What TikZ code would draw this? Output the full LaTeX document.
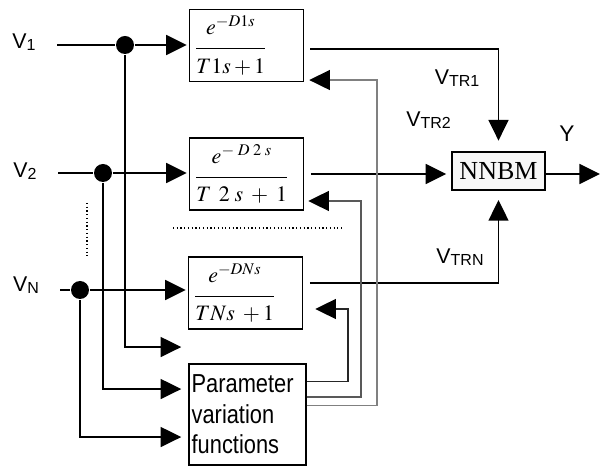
\documentclass[tikz,border=0pt]{standalone}
\usepackage{amsmath}
\usepackage{mathptmx}
\usepackage[no-math]{fontspec}
\setmainfont{Liberation Sans}
\newfontfamily\timesfont{Liberation Serif}
\newfontfamily\narrowfont[FakeStretch=0.84]{Liberation Sans}
\usetikzlibrary{arrows.meta,positioning,calc}
\newcommand{\sublbl}[2]{#1\raisebox{-1.5pt}{\fontsize{12}{12}\selectfont #2}}
\newcommand{\numstrut}{\rule[-8pt]{0pt}{8pt}}
\newcommand{\denstrut}{\rule{0pt}{16pt}}
\tikzset{
    block/.style = {draw, rectangle, line width=1.1pt, minimum height=54pt, minimum width=85.5pt, inner xsep=4pt, text width=77.5pt, align=left, font=\fontsize{16.5}{19}\selectfont},
    nnbm/.style = {draw, rectangle, line width=1.1pt, fill=black!3, minimum height=28.5pt, minimum width=69.75pt, inner sep=0pt, font=\timesfont\fontsize{19.5}{20}\selectfont},
    param/.style = {draw, rectangle, line width=1.1pt, minimum height=75.75pt, minimum width=87.75pt, inner xsep=2pt, text width=83.75pt, align=left, font=\narrowfont\fontsize{19.5}{23}\selectfont},
    dot/.style = {circle, fill, inner sep=0pt, minimum size=13.5pt},
    lbl/.style = {inner sep=0pt, font=\fontsize{16}{16}\selectfont},
    fb/.style = {line width=0.8pt, -{Triangle[length=15.5pt, width=15pt, color=black]}},
    dots/.style = {line width=0.9pt, dash pattern=on 0.9pt off 1.9pt},
}

\begin{document}
\begin{tikzpicture}[x=0.75pt, y=-0.75pt, line width=1.2pt, >={Triangle[length=15.5pt, width=15pt]}]
    \useasboundingbox (0,0) rectangle (600,466);

    % delay blocks
    \node[block] (tf1) at (246.5,45.5) {$\dfrac{\numstrut e^{-D1s}}{\denstrut T1s+1}$};
    \node[block] (tf2) at (246.5,174) {$\dfrac{\numstrut e^{-\;D\;2\;s}}{\denstrut T\;\,2\;s\;+\;1}$};
    \node[block] (tfN) at (245.5,293) {$\dfrac{\numstrut e^{-DNs}}{\denstrut TNs\;+1}$};
    \node[nnbm] (nnbm) at (498.5,171) {NNBM};
    \node[param] (param) at (247.5,414.5) {Parameter\\variation\\functions};

    % inputs
    \coordinate (in1) at (57,45);
    \coordinate (in2) at (58,173);
    \coordinate (inN) at (60,290);
    \node[dot] (d1) at (125,45) {};
    \node[dot] (d2) at (103,173) {};
    \node[dot] (dN) at (80,290) {};
    \node[lbl] (v1) at (24,42) {\sublbl{V}{1}};
    \node[lbl] (v2) at (25,171) {\sublbl{V}{2}};
    \node[lbl] (vN) at (26,285) {\sublbl{V}{N}};

    \draw[->, shorten >=1.5pt] (in1) -- (d1) -- (d1 -| tf1.west);
    \draw[->, shorten >=1.5pt] (in2) -- (d2) -- (d2 -| tf2.west);
    \draw[->, shorten >=1.5pt] (inN) -- (dN) -- (dN -| tfN.west);
    \draw[->, shorten >=5.25pt] (d1) |- ([yshift=50.6pt]param.west);
    \draw[->, shorten >=5.25pt] (d2) |- ([yshift=19.1pt]param.west);
    \draw[->, shorten >=5.25pt] (dN) |- ([yshift=-16.9pt]param.west);
    \draw[dots] (87,203) -- (87,257);
    \draw[dots] (173,228) -- (343,228);

    % outputs to NNBM
    \coordinate (yout) at (600,174);
    \draw[->, shorten <=4.5pt, shorten >=8pt] ([yshift=-2.6pt]tf1.east) -| (nnbm.north);
    \draw[->, shorten <=5pt, shorten >=3.75pt] (tf2.east) -- (nnbm.west |- tf2.east);
    \draw[->, shorten <=5pt, shorten >=7pt] ([yshift=7.5pt]tfN.east) -| (nnbm.south);
    \draw[->] (nnbm.east |- yout) -- (yout);
    \node[lbl] (vtr1) at (457,78) {\sublbl{V}{TR1}};
    \node[lbl] (vtr2) at (428.5,120) {\sublbl{V}{TR2}};
    \node[lbl] (vtrN) at (460,257) {\sublbl{V}{TRN}};
    \node[lbl, font=\fontsize{17}{17}\selectfont] (y) at (567,134) {Y};

    % parameter feedback
    \coordinate (kN) at (348,340);
    \coordinate (k2) at (361,300);
    \coordinate (k1) at (377,240);
    \draw[fb, black!85, shorten >=9pt] ([yshift=24.4pt]param.east) -| (kN) |- ([yshift=-12pt]tfN.east);
    \draw[fb, black!65, shorten >=3pt] ([yshift=13.1pt]param.east) -| (k2) |- ([yshift=-20.25pt]tf2.east);
    \draw[fb, black!50, shorten >=3.75pt] ([yshift=6.4pt]param.east) -| (k1) |- ([yshift=-25.9pt]tf1.east);
\end{tikzpicture}
\end{document}
